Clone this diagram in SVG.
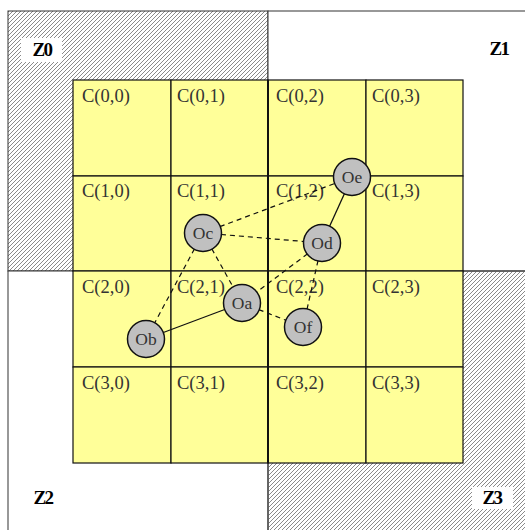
<svg xmlns="http://www.w3.org/2000/svg" width="525" height="530" viewBox="0 0 525 530">
<defs>
<pattern id="hatch" patternUnits="userSpaceOnUse" width="4" height="4">
<path d="M-1,1 L1,-1 M0,4 L4,0 M3,5 L5,3" stroke="#8a8a8a" stroke-width="1"/>
</pattern>
<style>
.zone{stroke:#333;stroke-width:1}
.cell{fill:#ffff99;stroke:#111;stroke-width:1.2}
.ct{font-family:"Liberation Serif",serif;font-size:18.5px;fill:#333}
.zt{font-family:"Liberation Serif",serif;font-size:19px;font-weight:bold;fill:#000;letter-spacing:-1.5px;text-anchor:middle}
.node circle{fill:#c0c0c0;stroke:#111;stroke-width:1.5}
.node text{font-family:"Liberation Serif",serif;font-size:17.5px;fill:#333;text-anchor:middle}
.dash{stroke:#111;stroke-width:1.2;stroke-dasharray:5,4;fill:none}
.solid{stroke:#111;stroke-width:1.3;fill:none}
</style>
</defs>
<rect width="525" height="530" fill="#fff"/>
<g id="zones">
<rect class="zone" x="8" y="11" width="260" height="260" fill="url(#hatch)"/>
<rect class="zone" x="268" y="11" width="260" height="260" fill="#fff"/>
<rect class="zone" x="8" y="271" width="260" height="262" fill="#fff"/>
<rect class="zone" x="268" y="271" width="260" height="262" fill="url(#hatch)"/>
<rect x="21" y="38" width="41" height="24" fill="#fff"/>
<rect x="472" y="487" width="41" height="22" fill="#fff"/>
<text class="zt" x="42" y="56">Z0</text>
<text class="zt" x="499" y="55">Z1</text>
<text class="zt" x="43" y="504">Z2</text>
<text class="zt" x="492" y="504">Z3</text>
</g>
<g id="cells">
<rect class="cell" x="73" y="80" width="98" height="96"/>
<rect class="cell" x="171" y="80" width="97" height="96"/>
<rect class="cell" x="268" y="80" width="98" height="96"/>
<rect class="cell" x="366" y="80" width="97" height="96"/>
<rect class="cell" x="73" y="176" width="98" height="95"/>
<rect class="cell" x="171" y="176" width="97" height="95"/>
<rect class="cell" x="268" y="176" width="98" height="95"/>
<rect class="cell" x="366" y="176" width="97" height="95"/>
<rect class="cell" x="73" y="271" width="98" height="96"/>
<rect class="cell" x="171" y="271" width="97" height="96"/>
<rect class="cell" x="268" y="271" width="98" height="96"/>
<rect class="cell" x="366" y="271" width="97" height="96"/>
<rect class="cell" x="73" y="367" width="98" height="96"/>
<rect class="cell" x="171" y="367" width="97" height="96"/>
<rect class="cell" x="268" y="367" width="98" height="96"/>
<rect class="cell" x="366" y="367" width="97" height="96"/>
<line x1="268" y1="80" x2="268" y2="463" stroke="#111" stroke-width="2"/>
<text class="ct" x="82" y="102">C(0,0)</text>
<text class="ct" x="177" y="102">C(0,1)</text>
<text class="ct" x="276" y="102">C(0,2)</text>
<text class="ct" x="372" y="102">C(0,3)</text>
<text class="ct" x="82" y="197">C(1,0)</text>
<text class="ct" x="177" y="197">C(1,1)</text>
<text class="ct" x="276" y="197">C(1,2)</text>
<text class="ct" x="372" y="197">C(1,3)</text>
<text class="ct" x="82" y="293">C(2,0)</text>
<text class="ct" x="177" y="293">C(2,1)</text>
<text class="ct" x="276" y="293">C(2,2)</text>
<text class="ct" x="372" y="293">C(2,3)</text>
<text class="ct" x="82" y="389">C(3,0)</text>
<text class="ct" x="177" y="389">C(3,1)</text>
<text class="ct" x="276" y="389">C(3,2)</text>
<text class="ct" x="372" y="389">C(3,3)</text>
</g>
<g id="connectors">
<line class="dash" x1="203" y1="233" x2="352" y2="177"/>
<line class="dash" x1="203" y1="233" x2="322" y2="243"/>
<line class="dash" x1="203" y1="233" x2="146" y2="339"/>
<line class="dash" x1="203" y1="233" x2="242" y2="303"/>
<line class="solid" x1="322" y1="243" x2="352" y2="177"/>
<line class="dash" x1="322" y1="243" x2="242" y2="303"/>
<line class="dash" x1="322" y1="243" x2="303" y2="327"/>
<line class="dash" x1="242" y1="303" x2="303" y2="327"/>
<line class="solid" x1="242" y1="303" x2="146" y2="339"/>
</g>
<g id="Oc" class="node"><circle cx="203" cy="233" r="18.5"/><text x="203" y="239">Oc</text></g>
<g id="Od" class="node"><circle cx="322" cy="243" r="18.5"/><text x="322" y="249">Od</text></g>
<g id="Oe" class="node"><circle cx="352" cy="177" r="18.5"/><text x="352" y="183">Oe</text></g>
<g id="Oa" class="node"><circle cx="242" cy="303" r="18.5"/><text x="242" y="309">Oa</text></g>
<g id="Of" class="node"><circle cx="303" cy="327" r="18.5"/><text x="303" y="333">Of</text></g>
<g id="Ob" class="node"><circle cx="146" cy="339" r="18.5"/><text x="146" y="345">Ob</text></g>
</svg>
